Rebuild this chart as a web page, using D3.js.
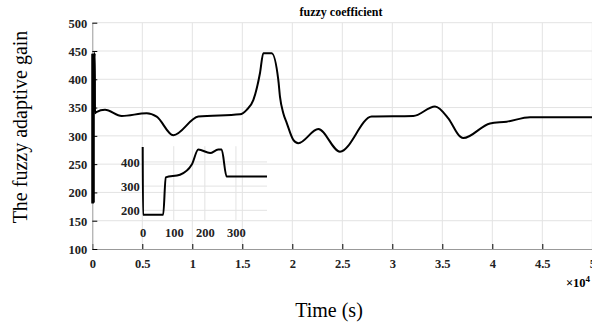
<!DOCTYPE html>
<html>
<head>
<meta charset="utf-8">
<script src="https://cdn.jsdelivr.net/npm/d3@7"></script>
<style>
  body { margin: 0; background: #fff; }
</style>
</head>
<body>
<div id="chart"></div>
<script>
var serif = '"Liberation Serif", "Times New Roman", "DejaVu Serif", serif';

// main series: time (s) and gain
var mainTime = [0, 1, 66, 74, 120, 158, 179, 217, 243, 254, 270, 400,
  1270, 2940, 5440, 6440, 8100, 10600, 14770, 15440, 16100, 16770, 17100, 17940,
  18600, 18770, 19100, 19440, 20100, 20600, 22600, 24770, 27940, 32100, 34270,
  35600, 36770, 37100, 39770, 41440, 43770, 50000];
var mainGain = [445, 182, 182, 336, 347, 389, 446, 437, 446, 446, 340, 342,
  346, 335, 340, 334, 301, 334, 338, 346, 363, 411, 446, 446,
  399, 369, 340, 323, 293, 287, 312, 272, 334, 335, 352,
  331, 299, 296, 322, 325, 333, 333];

// zoomed inset: first 400 s
var insetTime = [0, 1, 66, 74, 120, 158, 179, 217, 243, 254, 270, 400];
var insetGain = [462, 182, 182, 336, 347, 389, 451, 437, 451, 451, 340, 340];

var xTicks = [0, 5000, 10000, 15000, 20000, 25000, 30000, 35000, 40000, 45000, 50000];
var yTicks = [100, 150, 200, 250, 300, 350, 400, 450, 500];
var insetXTicks = [0, 100, 200, 300];
var insetYTicks = [200, 300, 400];

var width = 592, height = 327;
var svg = d3.select('#chart').append('svg')
  .attr('width', width)
  .attr('height', height);

var x = d3.scaleLinear().domain([0, 50000]).range([92.3, 592.3]);
var y = d3.scaleLinear().domain([100, 500]).range([249, 22.7]);

function styleTicks(g) {
  g.attr('font-family', null).attr('font-size', null);
  g.selectAll('.tick text')
    .style('font-family', serif)
    .style('font-weight', 'bold')
    .style('font-size', '12.5px')
    .attr('fill', '#222');
}

// grid
var grid = svg.append('g');
grid.selectAll('.gx').data(xTicks.slice(1)).enter().append('line')
  .attr('x1', function(d) { return x(d); }).attr('x2', function(d) { return x(d); })
  .attr('y1', y(100)).attr('y2', y(500))
  .attr('stroke', '#e3e3e3');
grid.selectAll('.gy').data(yTicks.slice(1)).enter().append('line')
  .attr('x1', x(0)).attr('x2', width)
  .attr('y1', function(d) { return y(d); }).attr('y2', function(d) { return y(d); })
  .attr('stroke', '#e3e3e3');

// axes
var xAxis = d3.axisBottom(x).tickValues(xTicks)
  .tickFormat(function(d) { return d / 10000; })
  .tickSizeInner(-5).tickSizeOuter(0).tickPadding(10);
var gx = svg.append('g').attr('transform', 'translate(0,' + y(100) + ')').call(xAxis);
var yAxis = d3.axisLeft(y).tickValues(yTicks)
  .tickSizeInner(-5).tickSizeOuter(0).tickPadding(5);
var gy = svg.append('g').attr('transform', 'translate(' + x(0) + ',0)').call(yAxis);
[gx, gy].forEach(function(g) {
  styleTicks(g);
  g.select('.domain').attr('stroke', '#999');
  g.selectAll('.tick line').attr('stroke', '#000');
});
gy.selectAll('.tick text').attr('dy', '0.35em');

// main line
var line = d3.line()
  .x(function(d) { return x(d[0]); })
  .y(function(d) { return y(d[1]); })
  .curve(d3.curveMonotoneX);
svg.append('path')
  .datum(d3.zip(mainTime, mainGain))
  .attr('d', line)
  .attr('fill', 'none')
  .attr('stroke', '#000')
  .attr('stroke-width', 2);
svg.append('line')
  .attr('x1', x(0) + 1).attr('x2', x(0) + 1)
  .attr('y1', y(445)).attr('y2', y(182))
  .attr('stroke', '#000').attr('stroke-width', 3);

// inset
var ix = d3.scaleLinear().domain([0, 400]).range([142.7, 267]);
var iy = d3.scaleLinear().domain([160, 465]).range([220, 146.2]);
var ig = svg.append('g');
ig.selectAll('.igx').data(insetXTicks.slice(1)).enter().append('line')
  .attr('x1', function(d) { return ix(d); }).attr('x2', function(d) { return ix(d); })
  .attr('y1', iy(160)).attr('y2', iy(465))
  .attr('stroke', '#e3e3e3');
ig.selectAll('.igy').data(insetYTicks).enter().append('line')
  .attr('x1', ix(0)).attr('x2', ix(400))
  .attr('y1', function(d) { return iy(d); }).attr('y2', function(d) { return iy(d); })
  .attr('stroke', '#e3e3e3');
var ixAxis = d3.axisBottom(ix).tickValues(insetXTicks).tickSize(0).tickPadding(8);
var igx = ig.append('g').attr('transform', 'translate(0,' + iy(160) + ')').call(ixAxis);
igx.select('.domain').remove();
styleTicks(igx);
var iyAxis = d3.axisLeft(iy).tickValues(insetYTicks).tickSize(0).tickPadding(3);
var igy = ig.append('g').attr('transform', 'translate(' + ix(0) + ',0)').call(iyAxis);
igy.select('.domain').remove();
styleTicks(igy);
igy.selectAll('.tick text').attr('dy', '0.35em');

var iline = d3.line()
  .x(function(d) { return ix(d[0]); })
  .y(function(d) { return iy(d[1]); })
  .curve(d3.curveMonotoneX);
ig.append('path')
  .datum(d3.zip(insetTime, insetGain))
  .attr('d', iline)
  .attr('fill', 'none')
  .attr('stroke', '#000')
  .attr('stroke-width', 2);

// labels
svg.append('text')
  .attr('x', 341).attr('y', 16)
  .attr('text-anchor', 'middle')
  .style('font-family', serif)
  .style('font-weight', 'bold').style('font-size', '12px')
  .text('fuzzy coefficient');
svg.append('text')
  .attr('transform', 'translate(27,127) rotate(-90)')
  .attr('text-anchor', 'middle')
  .style('font-family', serif)
  .style('font-size', '20px')
  .text('The fuzzy adaptive gain');
svg.append('text')
  .attr('x', 329).attr('y', 317)
  .attr('text-anchor', 'middle')
  .style('font-family', serif)
  .style('font-size', '20px')
  .text('Time (s)');
var mult = svg.append('text')
  .attr('x', 590).attr('y', 287)
  .attr('text-anchor', 'end')
  .style('font-family', serif)
  .style('font-weight', 'bold').style('font-size', '12.5px');
mult.append('tspan').text('\u00d710');
mult.append('tspan').attr('dy', -5).style('font-size', '9px').text('4');
</script>
</body>
</html>
